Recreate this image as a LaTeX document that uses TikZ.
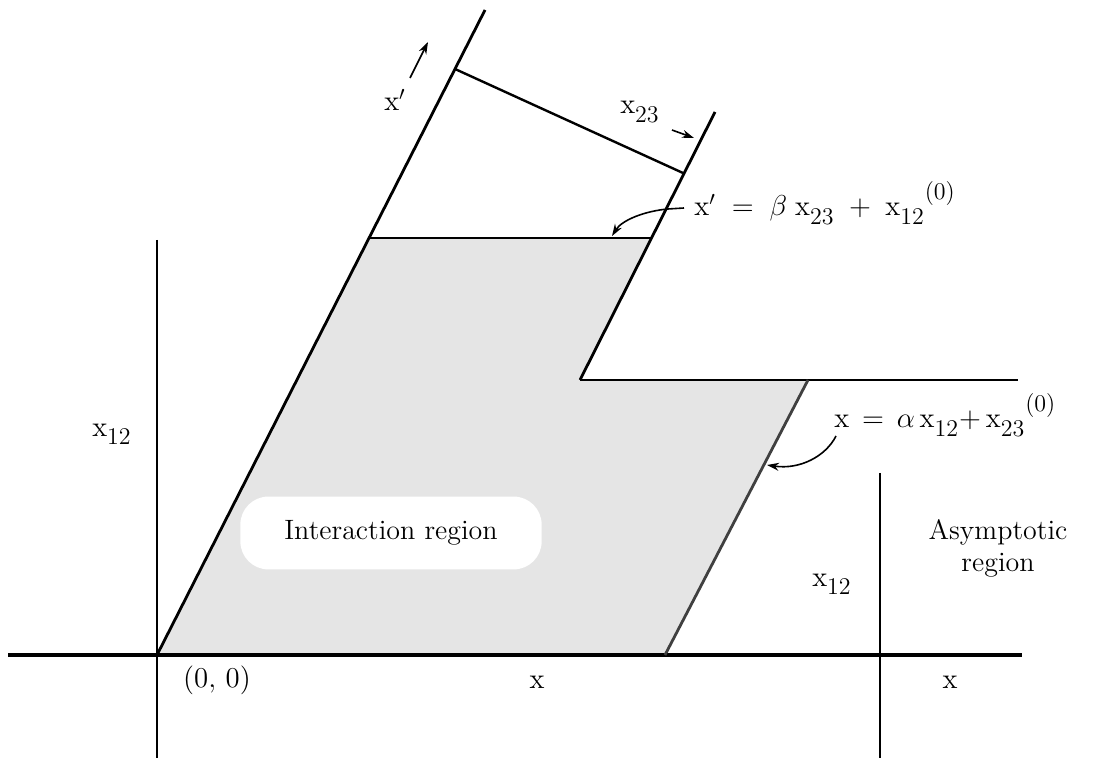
\documentclass[tikz,border=0pt]{standalone}
\usepackage{amsmath}
\usepackage{tikz}
\usetikzlibrary{arrows.meta,calc}

\newcommand\bigsub[1]{\hbox{\fontsize{12}{14}\selectfont #1}}
\newcommand\xs[1]{\mathrm{x}_{\raisebox{-2pt}{\bigsub{#1}}}}
\newcommand\zerosup{{}^{\raisebox{3pt}{\bigsub{(0)}}}}

\begin{document}
\begin{tikzpicture}[
  x=0.5pt, y=-0.5pt,
  font=\fontsize{14}{16}\selectfont,
  >={Stealth[length=6pt,width=4pt]},
  axis/.style={line width=1.1pt},
  edge/.style={line width=1.4pt},
  shade/.style={fill=gray!20},
  lbl/.style={inner sep=1pt},
  pointer/.style={->, line width=0.8pt}
]
\useasboundingbox (0,0) rectangle (1098,758);

% ---- corner points of the region ----
\coordinate (O)    at (157,655);
\coordinate (A)    at (368,238);
\coordinate (B)    at (652,238);
\coordinate (C)    at (580,380);
\coordinate (D)    at (808,380);
\coordinate (E)    at (665,655);
\coordinate (Ltop) at (485,10);
\coordinate (Rtop) at (715,112);
\coordinate (Cend) at (1018,380);
\coordinate (P1)   at (455,69);
\coordinate (P2)   at (683,173);

% ---- shaded interaction region ----
\fill[shade] (O) -- (A) -- (B) -- (C) -- (D) -- (E) -- cycle;
\node[lbl, fill=white, rounded corners=14pt, inner xsep=22pt, inner ysep=12pt]
  (inter) at (391,533) {Interaction region};

% ---- axes ----
\coordinate (hl)  at (8,655);
\coordinate (hr)  at (1022,655);
\coordinate (v1t) at (157,240);
\coordinate (v1b) at (157,758);
\coordinate (v2t) at (880,473);
\coordinate (v2b) at (880,758);
\draw[axis, line width=1.6pt] (hl) -- (hr);
\draw[axis] (v1t) -- (v1b);
\draw[axis] (v2t) -- (v2b);

% ---- boundaries ----
\draw[edge] (O) -- (Ltop);
\draw[edge] (C) -- (Rtop);
\draw[edge] (A) -- (B);
\draw[edge] (C) -- (Cend);
\draw[edge, black!75] (D) -- (E);
\draw[edge, line width=1.2pt] (P1) -- (P2);

% ---- labels ----
\node[lbl] (xp)    at (395,100) {$\mathrm{x}'$};
\node[lbl] (x23)   at (640,112) {$\xs{23}$};
\node[lbl, anchor=base west] (eqone) at (692,216)
  {$\mathrm{x}' \;=\; \beta\;\xs{23} \;+\; \xs{12}\zerosup$};
\node[lbl, anchor=base west] (eqtwo) at (832,428)
  {$\mathrm{x} \,=\, \alpha\,\xs{12}{+}\,\xs{23}\zerosup$};
\node[lbl] (xleft)  at (112,434) {$\xs{12}$};
\node[lbl] (xright) at (832,584) {$\xs{12}$};
\node[lbl] (orig)   at (217,680) {$(0,\,0)$};
\node[lbl] (xone)   at (537,682) {$\mathrm{x}$};
\node[lbl] (xtwo)   at (950,682) {$\mathrm{x}$};
\node[lbl, align=center] (asym) at (998,548) {Asymptotic\\region};

% ---- pointers ----
\coordinate (xpa)  at (410,78);
\coordinate (xpb)  at (428,42);
\coordinate (x23a) at (672,130);
\coordinate (x23b) at (694,138);
\coordinate (eqonetail) at (684,208);
\coordinate (eqonehead) at (612,236);
\coordinate (eqtwotail) at (836,436);
\coordinate (eqtwohead) at (767,465);
\draw[pointer] (xpa) -- (xpb);
\draw[pointer] (x23a) -- (x23b);
\draw[pointer] (eqonetail) -- ++(-16,1) .. controls (645,211) and (622,220) .. (eqonehead);
\draw[pointer] (eqtwotail) .. controls (826,456) and (800,470) .. (eqtwohead);

\end{tikzpicture}
\end{document}
